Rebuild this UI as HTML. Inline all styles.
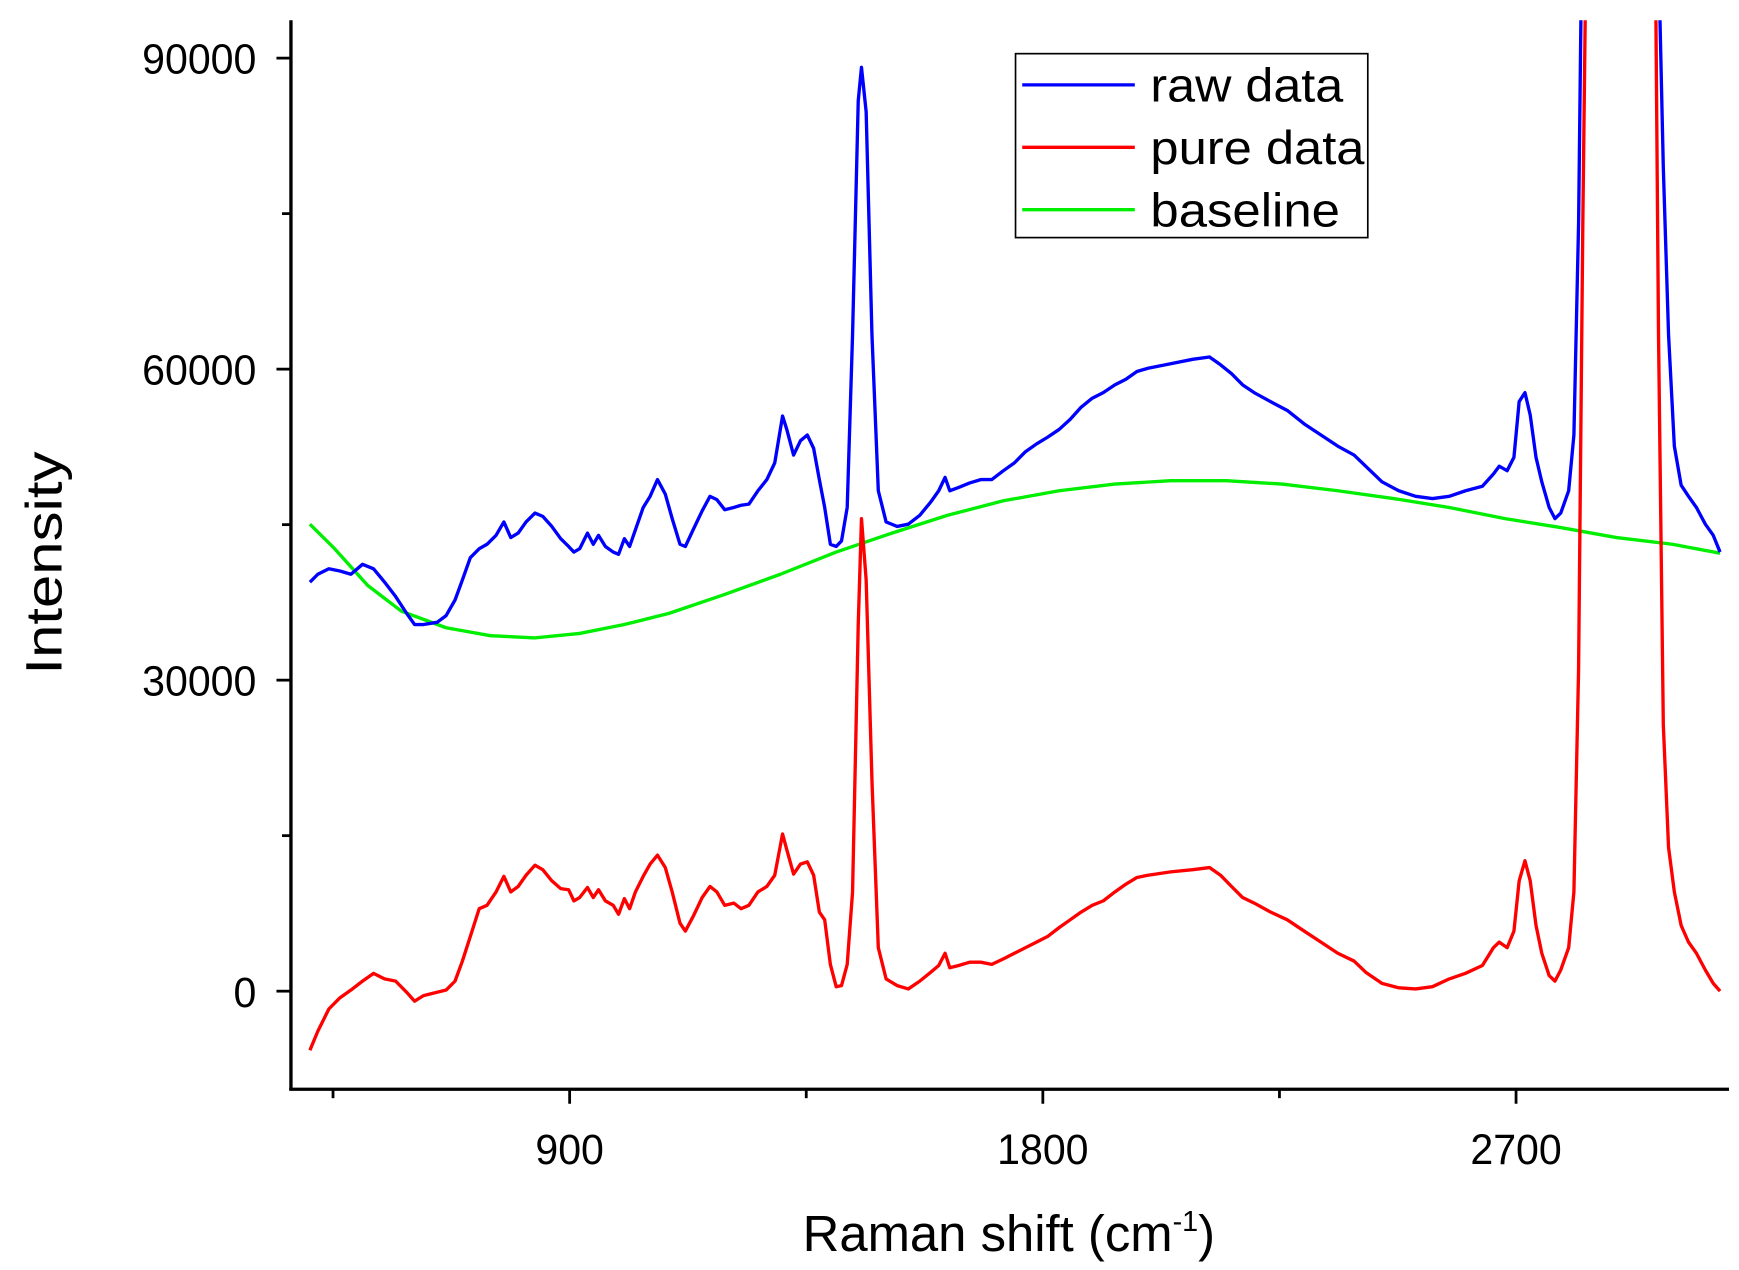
<!DOCTYPE html>
<html><head><meta charset="utf-8"><style>
html,body{margin:0;padding:0;background:#fff;}
svg{display:block;font-family:"Liberation Sans",Arial,sans-serif;}
</style></head><body>
<svg id="chart" width="1739" height="1270" viewBox="0 0 1560 1139" xmlns="http://www.w3.org/2000/svg">
<defs><clipPath id="plotclip"><rect x="261" y="18" width="1290" height="959"/></clipPath></defs>
<g id="series" clip-path="url(#plotclip)"></g>
<g id="axes"></g>
<text transform="translate(55,505) rotate(-90)" text-anchor="middle" font-size="46" textLength="200" lengthAdjust="spacingAndGlyphs">Intensity</text>
<text x="720" y="1122" font-size="46" textLength="370" lengthAdjust="spacingAndGlyphs">Raman shift (cm<tspan dy="-18" font-size="26">-1</tspan><tspan dy="18">)</tspan></text>
<g>
<rect x="911" y="48" width="316" height="165" fill="#fff" stroke="#000" stroke-width="1.5"/>
<line x1="917" y1="76" x2="1018" y2="76" stroke="#0000ff" stroke-width="3"/>
<text x="1032" y="91" font-size="42" textLength="173" lengthAdjust="spacingAndGlyphs">raw data</text>
<line x1="917" y1="132" x2="1018" y2="132" stroke="#ff0000" stroke-width="3"/>
<text x="1032" y="147" font-size="42" textLength="192" lengthAdjust="spacingAndGlyphs">pure data</text>
<line x1="917" y1="188" x2="1018" y2="188" stroke="#00ee00" stroke-width="3"/>
<text x="1032" y="203" font-size="42" textLength="170" lengthAdjust="spacingAndGlyphs">baseline</text>
</g>
</svg>
<script>
const xValues = [406,421,442,463,484,506,527,548,569,590,605,622,648,665,682,696,711,728,743,760,775,788,802,817,834,849,866,883,898,908,919,934,945,955,968,983,993,1004,1014,1025,1040,1053,1067,1082,1095,1110,1120,1135,1152,1167,1180,1195,1212,1226,1241,1258,1275,1290,1305,1313,1326,1339,1352,1364,1375,1385,1396,1407,1417,1428,1438,1449,1455,1464,1475,1487,1502,1523,1544,1566,1587,1602,1614,1623,1640,1661,1682,1703,1725,1746,1767,1788,1809,1831,1852,1873,1894,1915,1937,1958,1979,2000,2043,2085,2117,2138,2159,2180,2202,2233,2265,2297,2329,2361,2392,2414,2445,2477,2509,2541,2573,2604,2636,2657,2668,2683,2696,2706,2717,2727,2738,2749,2763,2774,2785,2800,2810,2819,2827,2833,2901,2965,2971,2980,2990,3001,3014,3028,3043,3060,3075,3088];
const pureValues = [-5700,-3870,-1720,-645,110,970,1720,1180,970,-110,-970,-430,-110,110,970,2900,5270,7960,8280,9570,11070,9570,10100,11180,12150,11720,10640,9890,9780,8710,9030,10000,9030,9780,8710,8280,7420,8920,7960,9570,11070,12260,13120,11930,9570,6560,5800,7200,9030,10100,9570,8280,8490,7960,8280,9570,10100,11180,15160,13650,11290,12260,12470,11180,7630,6880,2580,430,540,2580,9570,35370,45580,39670,20320,4190,1180,540,220,970,1830,2470,3660,2260,2470,2800,2800,2580,3120,3660,4190,4730,5270,6130,6880,7630,8280,8710,9570,10320,10970,11180,11500,11720,11930,11180,10100,9030,8490,7630,6880,5800,4730,3660,2900,1830,750,320,220,430,1180,1720,2470,4190,4730,4190,5800,10640,12580,10640,6340,3660,1500,970,2040,4190,9570,31070,74070,100000,200000,100000,63320,25700,13870,9570,6340,4730,3660,2040,750,0];
const rawValues = [39450,40210,40740,40530,40210,41170,40740,39450,38060,36440,35370,35370,35580,36230,37730,39670,41820,42680,43110,43970,45260,43750,44180,45260,46120,45800,44830,43650,42890,42360,42680,44180,43110,43970,42890,42360,42140,43650,42890,44500,46660,47730,49340,47950,45580,43110,42890,44500,46330,47730,47410,46440,46660,46870,46980,48270,49340,50960,55470,54180,51710,53100,53640,52350,49340,46660,43110,42890,43430,46660,63320,85890,89120,84820,63320,48270,45260,44830,45040,45900,47190,48270,49560,48270,48590,49020,49340,49340,50200,50960,52030,52780,53430,54180,55150,56330,57190,57730,58480,59020,59770,60090,60520,60950,61170,60420,59560,58480,57730,56870,56010,54720,53640,52570,51710,50630,49130,48270,47730,47520,47730,48270,48700,49880,50630,50200,51490,56870,57730,55580,51490,49130,46660,45580,46120,48270,53640,74070,110000,130000,250000,150000,100000,79440,63320,52570,48810,47730,46660,45040,43970,42360];
const baseX = [406,453,516,580,665,749,834,919,1004,1089,1195,1301,1407,1513,1619,1725,1831,1937,2043,2149,2255,2361,2467,2573,2679,2785,2891,2997,3088];
const baseValues = [45040,42680,39130,36660,35050,34290,34080,34510,35370,36440,38270,40210,42360,44180,45900,47300,48270,48910,49240,49240,48910,48270,47520,46660,45580,44720,43750,43110,42250];
const xTicks = [900,1800,2700];
const xMinor = [450,1350,2250];
const yTicks = [0,30000,60000,90000];
const yMinor = [15000,45000,75000];

const NS = "http://www.w3.org/2000/svg";
function sx(v){ return 511 + (v-900)/900*424.5; }
function sy(v){ return 889 - v/30000*279; }
function mk(tag, attrs, parent){ const e=document.createElementNS(NS,tag); for(const k in attrs) e.setAttribute(k,attrs[k]); parent.appendChild(e); return e; }
const series = document.getElementById('series');
function drawLine(xs, ys, color, name){
  const d = xs.map((x,i)=>(i?'L':'M')+sx(x).toFixed(1)+','+sy(ys[i]).toFixed(1)).join('');
  const p = mk('path',{d:d,fill:'none',stroke:color,'stroke-width':3,'stroke-linejoin':'round'},series);
  
  
}
drawLine(baseX, baseValues, '#00ee00', 'baseline-series');
drawLine(xValues, rawValues, '#0000ff', 'raw-data-series');
drawLine(xValues, pureValues, '#ff0000', 'pure-data-series');

const axes = document.getElementById('axes');
const l = mk('line',{x1:261,y1:18,x2:261,y2:978,stroke:'#000','stroke-width':3},axes);


const b = mk('line',{x1:259.5,y1:977,x2:1551,y2:977,stroke:'#000','stroke-width':3},axes);


xTicks.forEach(v=>{
  const t = mk('line',{x1:sx(v),y1:977,x2:sx(v),y2:990,stroke:'#000','stroke-width':2.5},axes);
  
  
  const s = String(v);
  const tx = mk('text',{x:sx(v),y:1044,'text-anchor':'middle','font-size':38,textLength:s.length*20.5,lengthAdjust:'spacingAndGlyphs'},axes);
  tx.textContent = s;
  
  
});
xMinor.forEach(v=>{
  const t = mk('line',{x1:sx(v),y1:977,x2:sx(v),y2:985,stroke:'#000','stroke-width':2.5},axes);
  
  
});
yTicks.forEach(v=>{
  const t = mk('line',{x1:248,y1:sy(v),x2:261,y2:sy(v),stroke:'#000','stroke-width':2.5},axes);
  
  
  const s = String(v);
  const tx = mk('text',{x:230,y:sy(v)+14,'text-anchor':'end','font-size':38,textLength:s.length*20.5,lengthAdjust:'spacingAndGlyphs'},axes);
  tx.textContent = s;
  
  
});
yMinor.forEach(v=>{
  const t = mk('line',{x1:253,y1:sy(v),x2:261,y2:sy(v),stroke:'#000','stroke-width':2.5},axes);
  
  
});
</script>
</body></html>
